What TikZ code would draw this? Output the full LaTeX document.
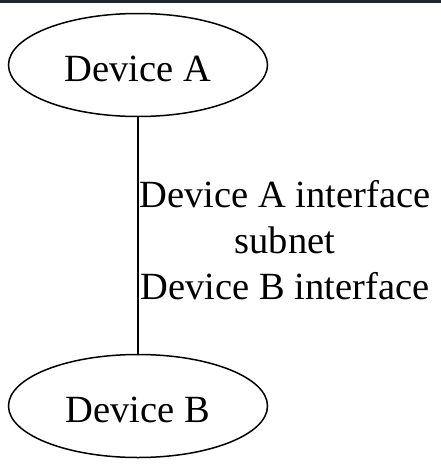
\documentclass[tikz,border=0pt]{standalone}
\usepackage{fontspec}
\setmainfont{Liberation Serif}
\usetikzlibrary{shapes.geometric}
\definecolor{topbar}{HTML}{1E2631}
\begin{document}
\begin{tikzpicture}[x=1pt,y=-1pt,
  dev/.style={draw, line width=1.5pt, ellipse, minimum width=259pt, minimum height=103pt, inner sep=0pt,
    font=\fontsize{38.5}{46}\selectfont, text height=32.5pt, text depth=0pt},
  lbl/.style={font=\fontsize{38.5}{46}\selectfont, align=center, inner sep=0pt}]
\useasboundingbox (0,0) rectangle (441,464);
\fill[white] (0,0) rectangle (441,464);
\fill[topbar] (0,0) rectangle (441,3);
\node[dev] (A) at (138,65) {Device A};
\node[dev] (B) at (138,406) {Device B};
\draw[line width=1.4pt] (A) -- (B);
\node[lbl] (L) at (285,240) {Device A interface\\subnet\\Device B interface};
\end{tikzpicture}
\end{document}
